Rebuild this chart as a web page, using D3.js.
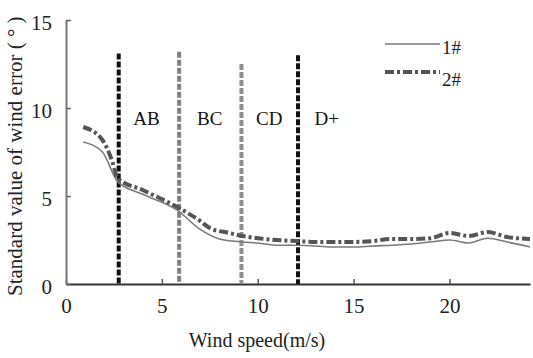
<!DOCTYPE html>
<html>
<head>
<meta charset="utf-8">
<script src="https://cdn.jsdelivr.net/npm/d3@7"></script>
<style>
  body { margin: 0; background: #fff; }
  svg text { font-family: "Liberation Serif", "Times New Roman", Times, "DejaVu Serif", serif !important; }
</style>
</head>
<body>
<div id="chart"></div>
<script>
// wind speed (m/s) and standard value of wind error for both units
let speeds1 = [0.9, 1.9, 2.7, 4.0, 5.8, 7.0, 8.0, 9.2, 10, 11, 12, 13, 14, 15, 16, 17, 18, 19, 20, 21, 22, 23, 24.2];
let values1 = [8.07, 7.5, 5.8, 5.1, 4.2, 3.1, 2.56, 2.39, 2.33, 2.2, 2.2, 2.16, 2.1, 2.1, 2.16, 2.2, 2.27, 2.39, 2.5, 2.33, 2.6, 2.39, 2.1];
let speeds2 = [0.9, 1.9, 2.4, 2.7, 4.0, 5.8, 7.0, 7.5, 8.5, 9.2, 10, 11, 12, 13, 14, 15, 16, 17, 18, 19, 20, 21, 22, 23, 24.2];
let values2 = [8.92, 8.18, 7.0, 6.0, 5.34, 4.37, 3.58, 3.18, 2.9, 2.73, 2.6, 2.5, 2.44, 2.39, 2.39, 2.39, 2.44, 2.56, 2.56, 2.6, 2.9, 2.73, 2.95, 2.67, 2.56];
let seriesNames = ["1#", "2#"];

// region boundaries and their labels
let boundarySpeeds = [2.75, 5.9, 9.15, 12.1];
let boundaryTops = [13.1, 13.2, 12.5, 13.0];
let regionNames = ["AB", "BC", "CD", "D+"];
let regionSpeeds = [4.2, 7.5, 10.6, 13.6];

let xTicks = [0, 5, 10, 15, 20];
let yTicks = [0, 5, 10, 15];

let w = 533;
let h = 358;

let svg = d3.select("#chart")
            .append("svg")
            .attr("width", w)
            .attr("height", h)
            .style("display", "block")
            .style("background-color", "#fff")
;

let xScale = d3.scaleLinear().domain([0, 24.2]).range([66, 530]);
let yScale = d3.scaleLinear().domain([0, 15]).range([284, 20]);

// axes
let xAxis = d3.axisBottom(xScale).tickValues(xTicks).tickSizeInner(-5).tickSizeOuter(0).tickPadding(14);
let xAxisGroup = svg.append("g")
                    .attr("class", "xaxisgroup")
                    .attr("transform", "translate(0," + yScale(0) + ")")
                    .call(xAxis)
;
xAxisGroup.select(".domain").attr("stroke", "#333").attr("stroke-width", 2);
xAxisGroup.selectAll(".tick line").attr("stroke", "#555").attr("stroke-width", 1.5);
xAxisGroup.selectAll(".tick text")
          .attr("font-size", 21)
          .attr("fill", "#222")
;

let yAxis = d3.axisLeft(yScale).tickValues(yTicks).tickSizeInner(-5).tickSizeOuter(0).tickPadding(14);
let yAxisGroup = svg.append("g")
                    .attr("class", "yaxisgroup")
                    .attr("transform", "translate(" + xScale(0) + ",0)")
                    .call(yAxis)
;
yAxisGroup.select(".domain").attr("stroke", "#777").attr("stroke-width", 2);
yAxisGroup.selectAll(".tick line").attr("stroke", "#666").attr("stroke-width", 1.5);
yAxisGroup.selectAll(".tick text")
          .attr("font-size", 21)
          .attr("fill", "#222")
          .attr("dy", "0.45em")
;

// axis titles
svg.append("text")
   .attr("x", 257)
   .attr("y", 347)
   .attr("text-anchor", "middle")
   .attr("font-size", 20)
   .attr("fill", "#222")
   .text("Wind speed(m/s)")
;
svg.append("text")
   .attr("transform", "translate(22,296) rotate(-90)")
   .attr("text-anchor", "start")
   .attr("font-size", 21)
   .attr("fill", "#222")
   .text("Standard value of wind error ( ° )")
;

// region boundaries
let boundaryColors = ["#111", "#808080", "#909090", "#111"];
svg.selectAll(".boundary")
   .data(boundarySpeeds)
   .enter()
   .append("line")
   .attr("class", "boundary")
   .attr("x1", d => xScale(d))
   .attr("x2", d => xScale(d))
   .attr("y1", (d, i) => yScale(boundaryTops[i]))
   .attr("y2", yScale(0))
   .attr("stroke", (d, i) => boundaryColors[i])
   .attr("stroke-width", 4)
   .attr("stroke-dasharray", "6,2")
;
svg.selectAll(".regionlabel")
   .data(regionNames)
   .enter()
   .append("text")
   .attr("class", "regionlabel")
   .attr("x", (d, i) => xScale(regionSpeeds[i]))
   .attr("y", 125)
   .attr("text-anchor", "middle")
   .attr("font-size", 19)
   .attr("fill", "#111")
   .text(d => d)
;

// series lines
let line = d3.line()
             .x(d => xScale(d[0]))
             .y(d => yScale(d[1]))
             .curve(d3.curveMonotoneX)
;
let data1 = speeds1.map((s, i) => [s, values1[i]]);
let data2 = speeds2.map((s, i) => [s, values2[i]]);

svg.append("path")
   .datum(data1)
   .attr("d", line)
   .attr("fill", "none")
   .attr("stroke", "#7a7a7a")
   .attr("stroke-width", 1.6)
;
svg.append("path")
   .datum(data2)
   .attr("d", line)
   .attr("fill", "none")
   .attr("stroke", "#555")
   .attr("stroke-width", 4)
   .attr("stroke-dasharray", "9,3,3,3")
;

// legend
let legendStyles = [
  {stroke: "#7a7a7a", width: 1.6, dash: null},
  {stroke: "#555", width: 4, dash: "9,3,3,3"}
];
let legend = svg.selectAll(".legenditem")
                .data(seriesNames)
                .enter()
                .append("g")
                .attr("class", "legenditem")
                .attr("transform", (d, i) => "translate(385," + (44 + i * 28) + ")")
;
legend.append("line")
      .attr("x1", 0)
      .attr("x2", 55)
      .attr("y1", 0)
      .attr("y2", 0)
      .attr("stroke", (d, i) => legendStyles[i].stroke)
      .attr("stroke-width", (d, i) => legendStyles[i].width)
      .attr("stroke-dasharray", (d, i) => legendStyles[i].dash)
;
legend.append("text")
      .attr("x", 57)
      .attr("y", (d, i) => i == 0 ? 10 : 14)
      .attr("font-size", 19)
      .attr("fill", "#222")
      .text(d => d)
;
</script>
</body>
</html>
